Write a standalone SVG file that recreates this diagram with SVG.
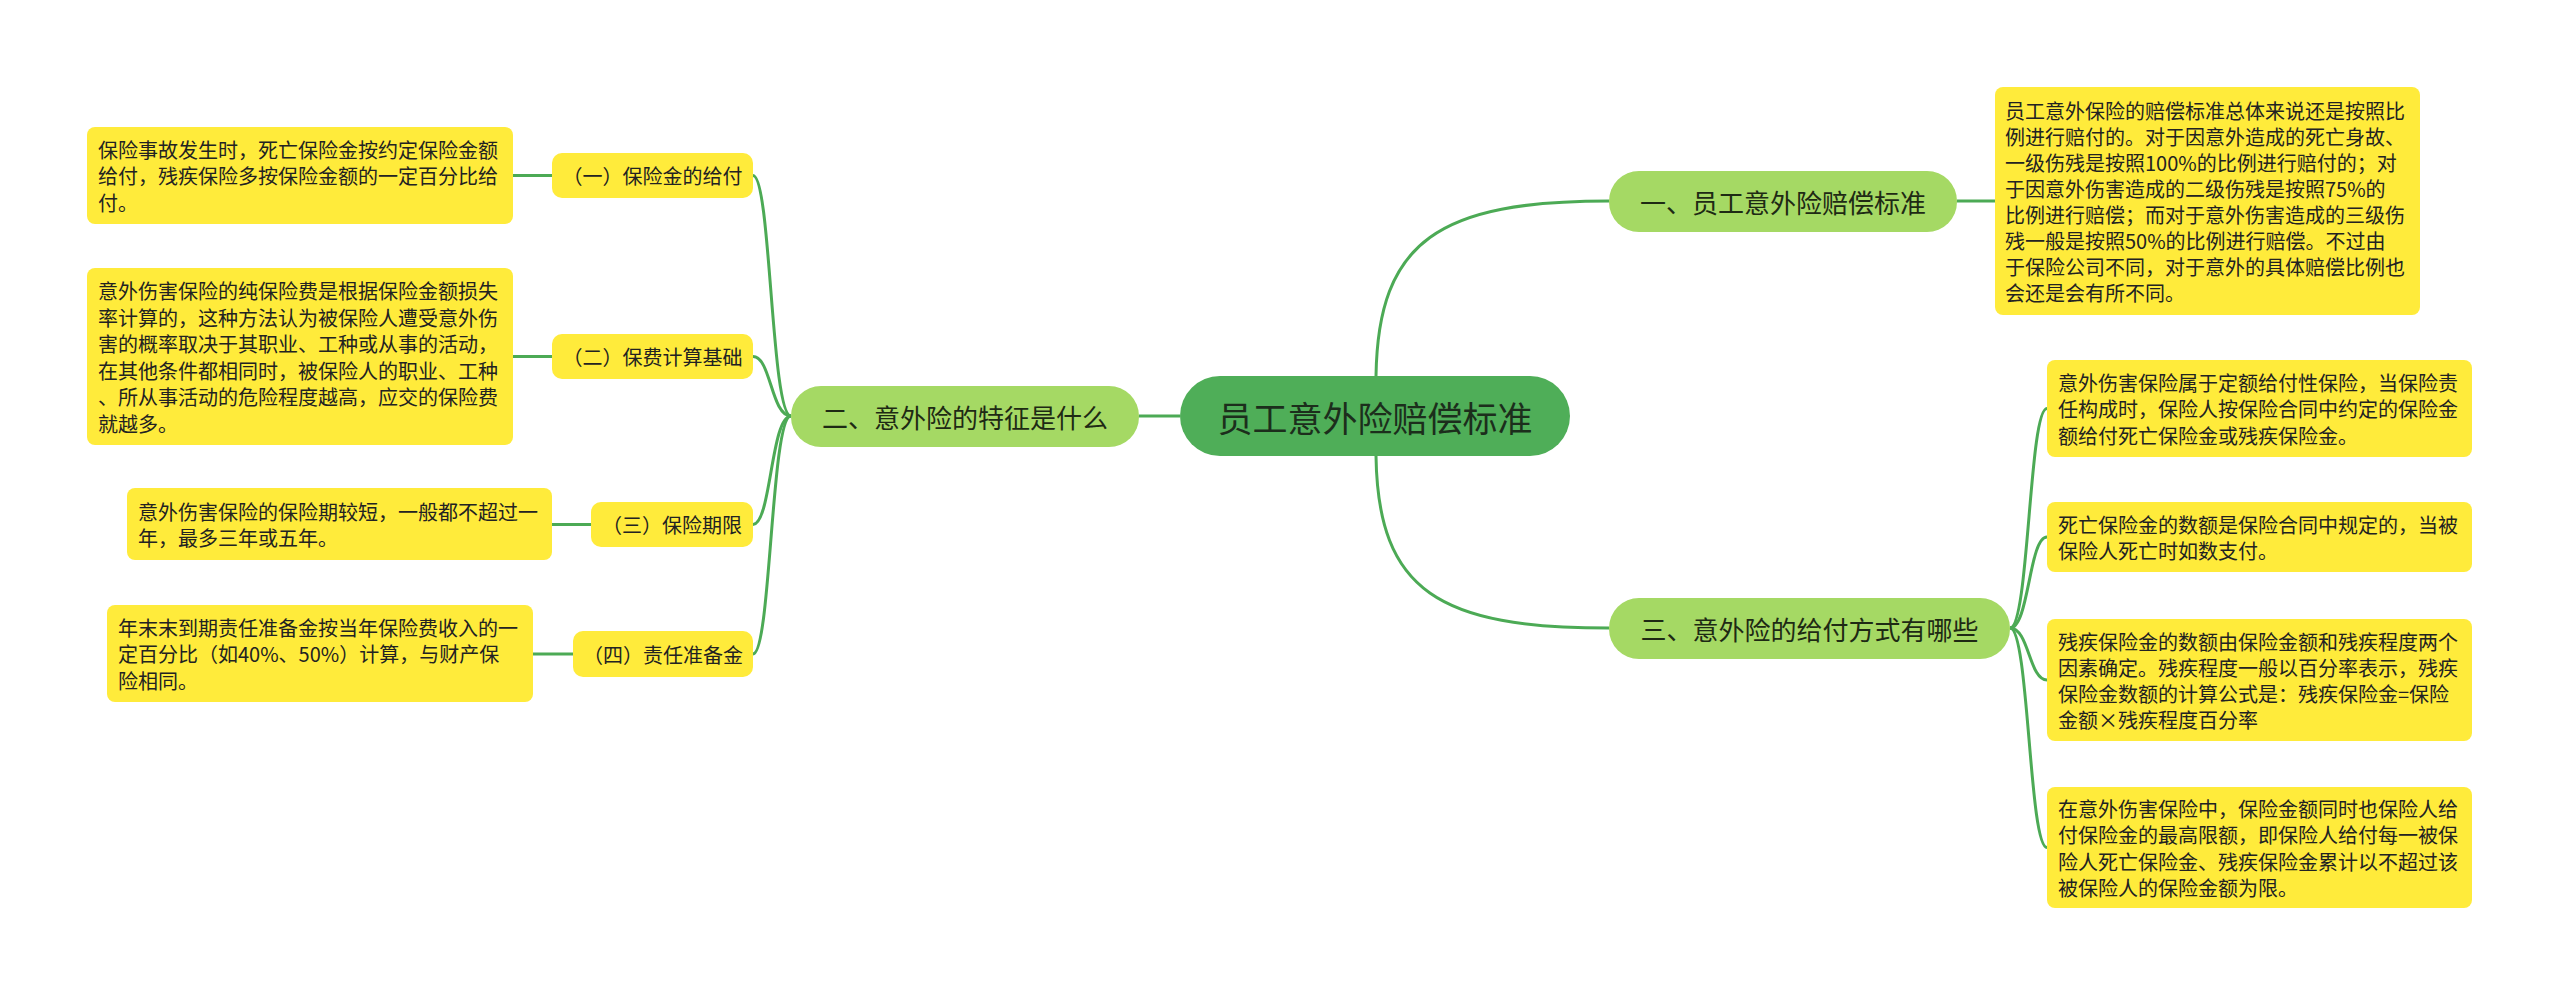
<svg xmlns="http://www.w3.org/2000/svg" width="2560" height="997" viewBox="0 0 2560 997">
<style>
text{font-family:"Noto Sans CJK SC","Noto Sans",sans-serif;fill:#222;}
.leaf rect{fill:#ffeb3b;}
.leaf text{font-size:20px;dominant-baseline:central;}
.sub rect{fill:#ffeb3b;}
.sub text{font-size:20px;text-anchor:middle;dominant-baseline:central;}
.branch rect{fill:#a5d964;}
.branch text{font-size:26px;text-anchor:middle;dominant-baseline:central;fill:#1e2a14;}
.center rect{fill:#4fae58;}
.center text{font-size:35px;text-anchor:middle;dominant-baseline:central;fill:#1c2e1c;}
#connectors path{fill:none;stroke:#4caa55;stroke-width:3;}
</style>
<rect width="2560" height="997" fill="#ffffff"/>
<g id="connectors">
<path d="M1180,416 H1139"/>
<path d="M1376,376 C1378,240 1440,201 1609,201"/>
<path d="M1376,456 C1378,592 1440,628 1609,628"/>
<path d="M1957,201 H1995"/>
<path d="M2010,628 C2029,628 2029,408.5 2047,408.5"/>
<path d="M2010,628 C2029,628 2029,537 2047,537"/>
<path d="M2010,628 C2029,628 2029,680 2047,680"/>
<path d="M2010,628 C2029,628 2029,847.5 2047,847.5"/>
<path d="M791,416 C771,416 771,175.5 753,175.5"/>
<path d="M791,416 C771,416 771,356.5 753,356.5"/>
<path d="M791,416 C771,416 771,524.5 753,524.5"/>
<path d="M791,416 C771,416 771,654 753,654"/>
<path d="M552,175.5 H513"/>
<path d="M552,356.5 H513"/>
<path d="M591,524.5 H552"/>
<path d="M573,654 H533"/>
</g>
<g id="center" class="center">
<rect x="1180" y="376" width="390" height="80" rx="40"/>
<text x="1375" y="416">员工意外险赔偿标准</text>
</g>
<g id="branch1" class="branch">
<rect x="1609" y="171" width="348" height="61" rx="30"/>
<text x="1783" y="201.5">一、员工意外险赔偿标准</text>
</g>
<g id="branch2" class="branch">
<rect x="791" y="386" width="348" height="61" rx="30"/>
<text x="965" y="416.5">二、意外险的特征是什么</text>
</g>
<g id="branch3" class="branch">
<rect x="1609" y="598" width="401" height="61" rx="30"/>
<text x="1809.5" y="628.5">三、意外险的给付方式有哪些</text>
</g>
<g id="leaf-r1" class="leaf">
<rect x="1995" y="87" width="425" height="228" rx="8"/>
<text x="2005" y="110">员工意外保险的赔偿标准总体来说还是按照比</text>
<text x="2005" y="136">例进行赔付的。对于因意外造成的死亡身故、</text>
<text x="2005" y="162">一级伤残是按照100%的比例进行赔付的；对</text>
<text x="2005" y="188">于因意外伤害造成的二级伤残是按照75%的</text>
<text x="2005" y="214">比例进行赔偿；而对于意外伤害造成的三级伤</text>
<text x="2005" y="240">残一般是按照50%的比例进行赔偿。不过由</text>
<text x="2005" y="266">于保险公司不同，对于意外的具体赔偿比例也</text>
<text x="2005" y="292">会还是会有所不同。</text>
</g>
<g id="leaf-r3a" class="leaf">
<rect x="2047" y="360" width="425" height="97" rx="8"/>
<text x="2058" y="382">意外伤害保险属于定额给付性保险，当保险责</text>
<text x="2058" y="408.5">任构成时，保险人按保险合同中约定的保险金</text>
<text x="2058" y="435">额给付死亡保险金或残疾保险金。</text>
</g>
<g id="leaf-r3b" class="leaf">
<rect x="2047" y="502" width="425" height="70" rx="8"/>
<text x="2058" y="524">死亡保险金的数额是保险合同中规定的，当被</text>
<text x="2058" y="550">保险人死亡时如数支付。</text>
</g>
<g id="leaf-r3c" class="leaf">
<rect x="2047" y="619" width="425" height="122" rx="8"/>
<text x="2058" y="641">残疾保险金的数额由保险金额和残疾程度两个</text>
<text x="2058" y="667">因素确定。残疾程度一般以百分率表示，残疾</text>
<text x="2058" y="693">保险金数额的计算公式是：残疾保险金=保险</text>
<text x="2058" y="719">金额×残疾程度百分率</text>
</g>
<g id="leaf-r3d" class="leaf">
<rect x="2047" y="787" width="425" height="121" rx="8"/>
<text x="2058" y="808">在意外伤害保险中，保险金额同时也保险人给</text>
<text x="2058" y="834.5">付保险金的最高限额，即保险人给付每一被保</text>
<text x="2058" y="861">险人死亡保险金、残疾保险金累计以不超过该</text>
<text x="2058" y="887.5">被保险人的保险金额为限。</text>
</g>
<g id="sub1" class="sub">
<rect x="552" y="153" width="201" height="45" rx="10"/>
<text x="652.5" y="175.5">（一）保险金的给付</text>
</g>
<g id="sub2" class="sub">
<rect x="552" y="334" width="201" height="45" rx="10"/>
<text x="652.5" y="356.5">（二）保费计算基础</text>
</g>
<g id="sub3" class="sub">
<rect x="591" y="502" width="162" height="45" rx="10"/>
<text x="672" y="524.5">（三）保险期限</text>
</g>
<g id="sub4" class="sub">
<rect x="573" y="631" width="180" height="46" rx="10"/>
<text x="663" y="654">（四）责任准备金</text>
</g>
<g id="leaf-l1" class="leaf">
<rect x="87" y="127" width="426" height="97" rx="8"/>
<text x="98" y="149">保险事故发生时，死亡保险金按约定保险金额</text>
<text x="98" y="175.5">给付，残疾保险多按保险金额的一定百分比给</text>
<text x="98" y="202">付。</text>
</g>
<g id="leaf-l2" class="leaf">
<rect x="87" y="268" width="426" height="177" rx="8"/>
<text x="98" y="290.5">意外伤害保险的纯保险费是根据保险金额损失</text>
<text x="98" y="317">率计算的，这种方法认为被保险人遭受意外伤</text>
<text x="98" y="343.5">害的概率取决于其职业、工种或从事的活动，</text>
<text x="98" y="370">在其他条件都相同时，被保险人的职业、工种</text>
<text x="98" y="396.5">、所从事活动的危险程度越高，应交的保险费</text>
<text x="98" y="423">就越多。</text>
</g>
<g id="leaf-l3" class="leaf">
<rect x="127" y="488" width="425" height="72" rx="8"/>
<text x="138" y="511">意外伤害保险的保险期较短，一般都不超过一</text>
<text x="138" y="537.5">年，最多三年或五年。</text>
</g>
<g id="leaf-l4" class="leaf">
<rect x="107" y="605" width="426" height="97" rx="8"/>
<text x="118" y="627">年末末到期责任准备金按当年保险费收入的一</text>
<text x="118" y="653.5">定百分比（如40%、50%）计算，与财产保</text>
<text x="118" y="680">险相同。</text>
</g>
</svg>
